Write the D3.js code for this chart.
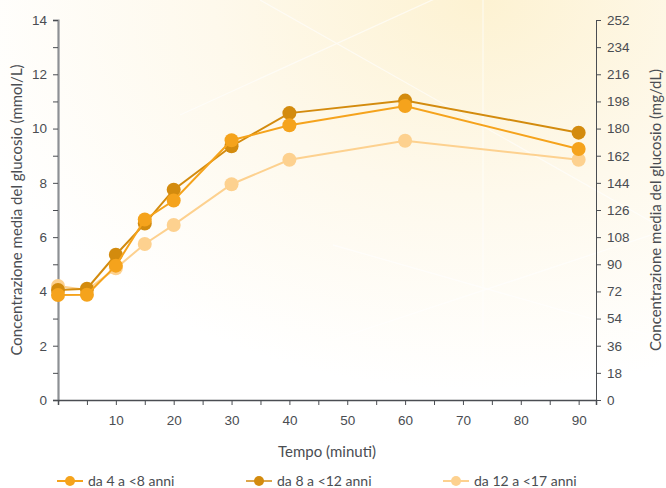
<!DOCTYPE html>
<html><head><meta charset="utf-8">
<script src="https://cdn.jsdelivr.net/npm/d3@7"></script>
<style>html,body{margin:0;padding:0;background:#fff}svg{display:block}</style>
</head><body>
<script>
const times = [0, 5, 10, 15, 20, 30, 40, 60, 90];
const seriesNames = ["da 4 a <8 anni", "da 8 a <12 anni", "da 12 a <17 anni"];
const s4to8 = [3.87, 3.88, 4.95, 6.65, 7.35, 9.57, 10.12, 10.83, 9.25];
const s8to12 = [4.05, 4.1, 5.35, 6.5, 7.75, 9.35, 10.57, 11.03, 9.85];
const s12to17 = [4.2, 4.05, 4.85, 5.75, 6.45, 7.95, 8.85, 9.55, 8.85];
const colors = ["#F5A31C", "#D38B0E", "#FDD18F"];
const legendLineColors = ["#F5A31C", "#DDA64A", "#FDD18F"];
const xTickLabels = [10, 20, 30, 40, 50, 60, 70, 80, 90];
const leftTicks = [0, 2, 4, 6, 8, 10, 12, 14];
const rightTicks = [0, 18, 36, 54, 72, 90, 108, 126, 144, 162, 180, 198, 216, 234, 252];

const W = 666, H = 488;
const svg = d3.select("body").append("svg").attr("width", W).attr("height", H)
  .style("font-family", "Lato, 'Open Sans', sans-serif");

const defs = svg.append("defs");
const rg = defs.append("radialGradient").attr("id", "bg").attr("cx", "0.72").attr("cy", "0.0").attr("r", "0.8");
rg.append("stop").attr("offset", "0").attr("stop-color", "#FDF2D2");
rg.append("stop").attr("offset", "0.5").attr("stop-color", "#FEF9EC");
rg.append("stop").attr("offset", "1").attr("stop-color", "#FFFFFF");
svg.append("rect").attr("width", W).attr("height", H).attr("fill", "url(#bg)");
// faint decorative lines
const deco = svg.append("g").attr("stroke", "#ffffff").attr("stroke-width", 1.3).attr("opacity", 0.6);
[[483,0,483,488],[260,0,666,230],[180,115,520,-40],[333,245,666,340],[333,340,666,230]].forEach(d=>{
  deco.append("line").attr("x1",d[0]).attr("y1",d[1]).attr("x2",d[2]).attr("y2",d[3]);
});

const x = d3.scaleLinear().domain([0, 93]).range([58, 596]);
const yL = d3.scaleLinear().domain([0, 14]).range([400, 20]);
const yR = d3.scaleLinear().domain([0, 252]).range([400, 20]);

const textColor = "#4a4d52";

// left axis
const gL = svg.append("g").attr("transform", "translate(58,0)")
  .call(d3.axisLeft(yL).tickValues(d3.range(0, 15, 1)).tickSize(5).tickPadding(6)
    .tickFormat(d => leftTicks.includes(d) ? d : ""));
gL.select(".domain").attr("stroke", "#8d9094").attr("stroke-width", 2.2);
gL.selectAll(".tick line").attr("stroke", "#4a4d52");
gL.selectAll("text").attr("fill", textColor).style("font-size", "13.5px");

// right axis
const gR = svg.append("g").attr("transform", "translate(596,0)")
  .call(d3.axisRight(yR).tickValues(rightTicks).tickSize(5).tickPadding(6));
gR.select(".domain").attr("stroke", "#4a4d52").attr("stroke-width", 1);
gR.selectAll(".tick line").attr("stroke", "#4a4d52");
gR.selectAll("text").attr("fill", textColor).style("font-size", "13.5px");

// x axis
const gX = svg.append("g").attr("transform", "translate(0,400)")
  .call(d3.axisBottom(x).tickValues(d3.range(5, 95, 5)).tickSize(5).tickPadding(10)
    .tickFormat(d => xTickLabels.includes(d) ? d : ""));
gX.select(".domain").attr("stroke", "#4a4d52").attr("stroke-width", 1.5);
gX.selectAll(".tick line").attr("stroke", "#4a4d52");
gX.selectAll("text").attr("fill", textColor).style("font-size", "13.5px");

// titles
svg.append("text").attr("x", 327).attr("y", 457).attr("text-anchor", "middle")
  .attr("fill", textColor).style("font-size", "15px").text("Tempo (minuti)");
svg.append("text").attr("transform", "translate(22,210) rotate(-90)").attr("text-anchor", "middle")
  .attr("fill", textColor).style("font-size", "15px").text("Concentrazione media del glucosio (mmol/L)");
svg.append("text").attr("transform", "translate(661,210) rotate(-90)").attr("text-anchor", "middle")
  .attr("fill", textColor).style("font-size", "15px").text("Concentrazione media del glucosio (mg/dL)");

const data = [s4to8, s8to12, s12to17];
const line = d3.line().x((d, i) => x(times[i])).y(d => yL(d));
const order = [2, 1, 0];
order.forEach(k => {
  const g = svg.append("g");
  g.append("path").datum(data[k]).attr("d", line).attr("fill", "none")
    .attr("stroke", colors[k]).attr("stroke-width", 2);
  g.selectAll("circle").data(data[k]).join("circle")
    .attr("cx", (d, i) => x(times[i])).attr("cy", d => yL(d)).attr("r", 7)
    .attr("fill", colors[k]);
});

// legend
const legX = [57, 246, 443];
seriesNames.forEach((n, k) => {
  const g = svg.append("g").attr("transform", `translate(${legX[k]},481)`);
  g.append("line").attr("x1", 0).attr("x2", 26).attr("y1", 0).attr("y2", 0)
    .attr("stroke", legendLineColors[k]).attr("stroke-width", 2);
  g.append("circle").attr("cx", 13).attr("cy", 0).attr("r", 5).attr("fill", colors[k]);
  g.append("text").attr("x", 31).attr("y", 5).attr("fill", textColor)
    .style("font-size", "14px").text(n);
});
</script>
</body></html>
